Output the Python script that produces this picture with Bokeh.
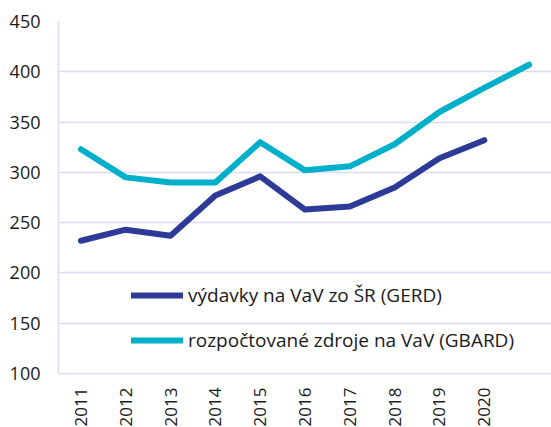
from bokeh.plotting import figure
from bokeh.models import Range1d, FixedTicker, Legend, LegendItem
from bokeh.embed import file_html
from bokeh.resources import INLINE

years_gerd = [2011, 2012, 2013, 2014, 2015, 2016, 2017, 2018, 2019, 2020]
gerd = [232, 243, 237, 277, 296, 263, 266, 285, 314, 332]
years_gbard = [2011, 2012, 2013, 2014, 2015, 2016, 2017, 2018, 2019, 2020, 2021]
gbard = [323, 295, 290, 290, 330, 302, 306, 328, 360, 384, 407]
x_tick_labels = ["2011", "2012", "2013", "2014", "2015", "2016", "2017", "2018", "2019", "2020"]
y_ticks = [100, 150, 200, 250, 300, 350, 400, 450]
label_gerd = "výdavky na VaV zo ŠR (GERD)"
label_gbard = "rozpočtované zdroje na VaV (GBARD)"

GRID = "#D9DCF3"
DARK = "#2E3A97"
CYAN = "#00B0CB"
FONT = "Open Sans"

p = figure(frame_width=493, frame_height=352, output_backend="svg", toolbar_location=None,
           x_range=Range1d(2010.5, 2021.5), y_range=Range1d(100, 450),
           min_border_left=58, min_border_top=21, min_border_right=0, min_border_bottom=0)
p.outline_line_color = None
p.xgrid.grid_line_color = None
p.ygrid.grid_line_color = GRID
p.ygrid.grid_line_width = 1.5

p.yaxis.ticker = FixedTicker(ticks=y_ticks)
p.xaxis.ticker = FixedTicker(ticks=[int(s) for s in x_tick_labels])
p.xaxis.major_label_overrides = {int(s): s for s in x_tick_labels}
for ax in (p.xaxis, p.yaxis):
    ax.axis_line_color = GRID
    ax.axis_line_width = 1.5
    ax.major_tick_line_color = None
    ax.minor_tick_line_color = None
    ax.major_tick_out = 0
    ax.major_tick_in = 0
    ax.major_label_text_font = FONT
    ax.major_label_text_color = "#1a1a1a"
p.yaxis.major_label_text_font_size = "18px"
p.xaxis.major_label_text_font_size = "17px"
p.yaxis.major_label_standoff = 18
p.xaxis.major_label_standoff = 14
p.xaxis.major_label_orientation = 3.14159265 / 2

r1 = p.line(years_gerd, gerd, line_color=DARK, line_width=6, line_cap="round", line_join="round")
r2 = p.line(years_gbard, gbard, line_color=CYAN, line_width=6, line_cap="round", line_join="round")

legend = Legend(items=[LegendItem(label=label_gerd, renderers=[r1]),
                       LegendItem(label=label_gbard, renderers=[r2])],
                location=(73, 20), padding=0, margin=0, spacing=19,
                glyph_width=52, glyph_height=20, label_height=20, label_standoff=5,
                border_line_color=None, background_fill_alpha=0,
                label_text_font=FONT, label_text_font_size="19px", label_text_color="#1a1a1a")
p.add_layout(legend, "center")

open("out.html", "w").write(file_html(p, INLINE))
